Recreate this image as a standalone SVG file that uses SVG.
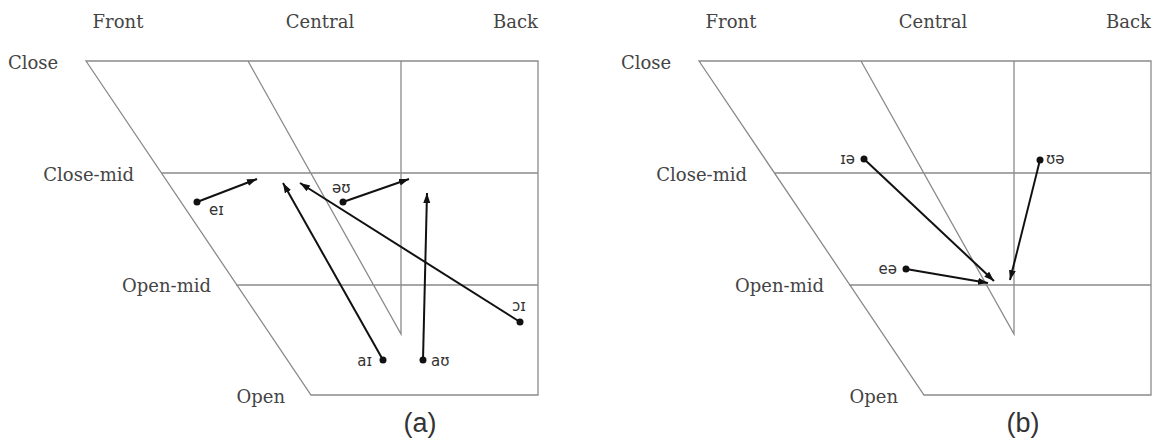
<svg xmlns="http://www.w3.org/2000/svg" width="1162" height="442" viewBox="0 0 1162 442">
<defs>
<marker id="ah" markerUnits="userSpaceOnUse" markerWidth="12" markerHeight="10" refX="10" refY="3.5" orient="auto">
<path d="M0,0 L10,3.5 L0,7 Z" fill="#111"/>
</marker>
<style>
.grid{fill:none;stroke:#8a8a8a;stroke-width:1.3}
.ax{font-family:"DejaVu Serif","Liberation Serif",serif;font-size:18px;fill:#444}
.v{font-family:"DejaVu Sans","Liberation Sans",sans-serif;font-size:15px;fill:#333}
.arr{stroke:#111;stroke-width:2;fill:none;marker-end:url(#ah)}
.dot{fill:#111}
.cap{font-family:"Liberation Sans",Arial,sans-serif;font-size:27px;fill:#333;text-anchor:middle}
</style>
</defs>
<rect width="1162" height="442" fill="#fff"/>

<g id="chart-a">
<path class="grid" d="M86,61 H538 V395 H311 Z M161,173 H538 M236,285 H538 M248,61 L401,334 V61"/>
<text class="ax" x="118" y="28" text-anchor="middle">Front</text>
<text class="ax" x="320" y="28" text-anchor="middle">Central</text>
<text class="ax" x="538" y="28" text-anchor="end">Back</text>
<text class="ax" x="8" y="69">Close</text>
<text class="ax" x="134" y="181" text-anchor="end">Close-mid</text>
<text class="ax" x="211" y="292" text-anchor="end">Open-mid</text>
<text class="ax" x="285" y="403" text-anchor="end">Open</text>
<text class="cap" x="420" y="432">(a)</text>
</g>

<g id="chart-b">
<path class="grid" d="M699,61 H1151 V395 H924 Z M774,173 H1151 M849,285 H1151 M861,61 L1014,334 V61"/>
<text class="ax" x="731" y="28" text-anchor="middle">Front</text>
<text class="ax" x="933" y="28" text-anchor="middle">Central</text>
<text class="ax" x="1151" y="28" text-anchor="end">Back</text>
<text class="ax" x="621" y="69">Close</text>
<text class="ax" x="747" y="181" text-anchor="end">Close-mid</text>
<text class="ax" x="824" y="292" text-anchor="end">Open-mid</text>
<text class="ax" x="898" y="403" text-anchor="end">Open</text>
<text class="cap" x="1023" y="432">(b)</text>
</g>

<g id="connectors">
<line class="arr" x1="197" y1="202" x2="257" y2="179"/>
<line class="arr" x1="383" y1="360" x2="283" y2="183"/>
<line class="arr" x1="520" y1="322" x2="300" y2="183"/>
<line class="arr" x1="343" y1="202" x2="409" y2="179"/>
<line class="arr" x1="423" y1="360" x2="427" y2="193"/>
<line class="arr" x1="864" y1="159" x2="994" y2="281"/>
<line class="arr" x1="1040" y1="160" x2="1010" y2="280"/>
<line class="arr" x1="906" y1="269" x2="988" y2="283"/>
</g>

<g id="vowel-ei"><circle class="dot" cx="197" cy="202" r="3.5"/><text class="v" x="209" y="215">eɪ</text></g>
<g id="vowel-ai"><circle class="dot" cx="383" cy="360" r="3.5"/><text class="v" x="372" y="366" text-anchor="end">aɪ</text></g>
<g id="vowel-oi"><circle class="dot" cx="520" cy="322" r="3.5"/><text class="v" x="519" y="311" text-anchor="middle">ɔɪ</text></g>
<g id="vowel-ou"><circle class="dot" cx="343" cy="202" r="3.5"/><text class="v" x="332" y="193">əʊ</text></g>
<g id="vowel-au"><circle class="dot" cx="423" cy="360" r="3.5"/><text class="v" x="431" y="366">aʊ</text></g>
<g id="vowel-ie"><circle class="dot" cx="864" cy="159" r="3.5"/><text class="v" x="855" y="164" text-anchor="end">ɪə</text></g>
<g id="vowel-ue"><circle class="dot" cx="1040" cy="160" r="3.5"/><text class="v" x="1046" y="164">ʊə</text></g>
<g id="vowel-ea"><circle class="dot" cx="906" cy="269" r="3.5"/><text class="v" x="897" y="274" text-anchor="end">eə</text></g>
</svg>
